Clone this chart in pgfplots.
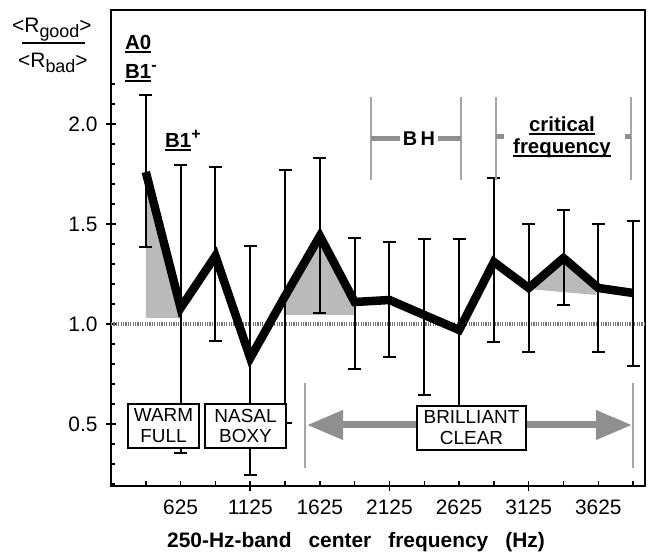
\documentclass[border=0pt]{standalone}
\usepackage{pgfplots}
\pgfplotsset{compat=1.18}
\usepackage{pgfplotstable}
\usepackage{fontspec}
\setmainfont{Liberation Sans}
\usetikzlibrary{arrows.meta}
\definecolor{fillg}{gray}{0.73}
\definecolor{arrg}{gray}{0.56}
\definecolor{lineg}{gray}{0.65}
\definecolor{dotg}{gray}{0.45}
\newsavebox\ulbox
\newcommand{\ul}[1]{\sbox\ulbox{#1}\rlap{\rule[-3bp]{\wd\ulbox}{1.5bp}}\usebox\ulbox}

\pgfplotstableread{
x     y      ep     em
375   1.76   0.385  0.375
625   1.08   0.715  0.725
875   1.34   0.445  0.425
1125  0.83   0.56   0.585
1375  1.14   0.63   0.635
1625  1.44   0.39   0.385
1875  1.11   0.32   0.335
2125  1.12   0.29   0.285
2375  1.045  0.38   0.40
2625  0.97   0.455  0.455
2875  1.31   0.42   0.40
3125  1.18   0.32   0.32
3375  1.33   0.24   0.235
3625  1.18   0.32   0.32
3875  1.155  0.36   0.365
}\datatab

\begin{document}
\begin{tikzpicture}
\path[use as bounding box] (-111bp,-71bp) rectangle (541bp,486bp);
\begin{axis}[
  scale only axis, width=534bp, height=476bp,
  anchor=south west, at={(0,0)},
  xmin=125, xmax=3960, ymin=0.19, ymax=2.57,
  axis line style={line width=2bp},
  tick style={black, line width=1.5bp},
  tick align=inside, major tick length=4.5bp, minor tick length=4.5bp,
  xtick pos=bottom, ytick pos=left,
  xtick={375,625,...,3875},
  xticklabels={,625,,1125,,1625,,2125,,2625,,3125,,3625,},
  ytick={0.2,0.3,0.4,0.5,0.6,0.7,0.8,0.9,1.0,1.1,1.2,1.3,1.4,1.5,1.6,1.7,1.8,1.9,2.0,2.1,2.2},
  yticklabels={,,,0.5,,,,,1.0,,,,,1.5,,,,,2.0,,},
  extra x ticks={1125,2125,3125}, extra x tick labels={,,},
  extra y ticks={0.5,1,1.5,2}, extra y tick labels={,,,},
  extra tick style={tick align=center, major tick length=10bp},
  xticklabel style={font=\fontsize{21}{24}\selectfont, yshift=-10bp},
  yticklabel style={font=\fontsize{21}{24}\selectfont, xshift=-10bp},
]
\addplot[draw=none, fill=fillg] coordinates {(375,1.03) (375,1.76) (612,1.115) (612,1.03)};
\addplot[draw=none, fill=fillg] coordinates {(1375,1.045) (1375,1.14) (1625,1.44) (1875,1.11) (1875,1.045)};
\addplot[draw=none, fill=fillg] coordinates {(3125,1.175) (3375,1.33) (3610,1.19) (3610,1.145)};
\addplot[dotg, line width=4bp, dash pattern=on 1.2bp off 1.2bp] coordinates {(125,1) (3960,1)};
\addplot[black, line width=8.5bp, line join=miter, mark=none,
  error bars/.cd, y dir=both, y explicit,
  error bar style={black, line width=2bp},
  error mark options={black, rotate=90, mark size=6.5bp, line width=2bp}]
  table[x=x, y=y, y error plus=ep, y error minus=em] {\datatab};
\end{axis}

% fraction label
\node[anchor=base west, inner sep=0pt, font=\fontsize{21}{24}\selectfont] at (-99bp,453bp)
  {<R\raisebox{-5bp}{\fontsize{18}{18}\selectfont good}>};
\draw[line width=1.8bp] (-89bp,443bp) -- (-26bp,443bp);
\node[anchor=base west, inner sep=0pt, font=\fontsize{21}{24}\selectfont] at (-93bp,418bp)
  {<R\raisebox{-5bp}{\fontsize{18}{18}\selectfont bad}>};

% mode labels
\node[anchor=base west, inner sep=0pt, font=\fontsize{20.5}{24}\selectfont\bfseries] at (14bp,436bp) {\ul{A0}};
\node[anchor=base west, inner sep=0pt, font=\fontsize{20.5}{24}\selectfont\bfseries] at (14bp,407bp)
  {\ul{B1}\raisebox{8bp}{\fontsize{16}{16}\selectfont -}};
\node[anchor=base west, inner sep=0pt, font=\fontsize{20.5}{24}\selectfont\bfseries] at (54bp,338bp)
  {\ul{B1}\raisebox{8bp}{\fontsize{16}{16}\selectfont +}};

% BH bracket
\draw[lineg, line width=2bp] (260bp,389bp) -- (260bp,306bp);
\draw[lineg, line width=2bp] (350bp,389bp) -- (350bp,306bp);
\draw[arrg, line width=5bp] (260bp,347bp) -- (289bp,347bp);
\draw[arrg, line width=5bp] (327bp,347bp) -- (350bp,347bp);
\node[inner sep=0pt, font=\fontsize{20}{24}\selectfont\bfseries] at (308bp,347bp) {B\,H};

% critical frequency bracket
\draw[lineg, line width=2bp] (385bp,389bp) -- (385bp,306bp);
\draw[lineg, line width=2bp] (520bp,389bp) -- (520bp,306bp);
\draw[arrg, line width=5bp] (385bp,349bp) -- (393bp,349bp);
\draw[arrg, line width=5bp] (514bp,349bp) -- (520bp,349bp);
\node[anchor=base, inner sep=0pt, font=\fontsize{20.5}{24}\selectfont\bfseries] at (451bp,354bp) {\ul{critical}};
\node[anchor=base, inner sep=0pt, font=\fontsize{20.5}{24}\selectfont\bfseries] at (451bp,332bp) {\ul{frequency}};

% brilliant arrow
\draw[lineg, line width=2bp] (194bp,103bp) -- (194bp,18bp);
\draw[lineg, line width=2bp] (522bp,103bp) -- (522bp,18bp);
\draw[arrg, line width=7bp, {Triangle[length=36bp,width=28bp]}-{Triangle[length=36bp,width=28bp]}]
  (196bp,61bp) -- (521bp,61bp);

% boxes
\tikzset{tbox/.style={draw=black, line width=1.5bp, fill=white, inner sep=0pt,
  minimum height=44bp, align=center, font=\fontsize{19}{21}\selectfont}}
\node[tbox, minimum width=71bp] at (52.5bp,60bp) {WARM\\FULL};
\node[tbox, minimum width=81bp] at (134.5bp,60bp) {NASAL\\BOXY};
\node[tbox, minimum width=109bp] at (360.5bp,58bp) {BRILLIANT\\CLEAR};

% x label
\node[font=\fontsize{21}{24}\selectfont\bfseries, inner sep=0pt] at (245bp,-56bp)
  {250-Hz-band\hspace{17bp}center\hspace{17bp}frequency\hspace{17bp}(Hz)};
\end{tikzpicture}
\end{document}
